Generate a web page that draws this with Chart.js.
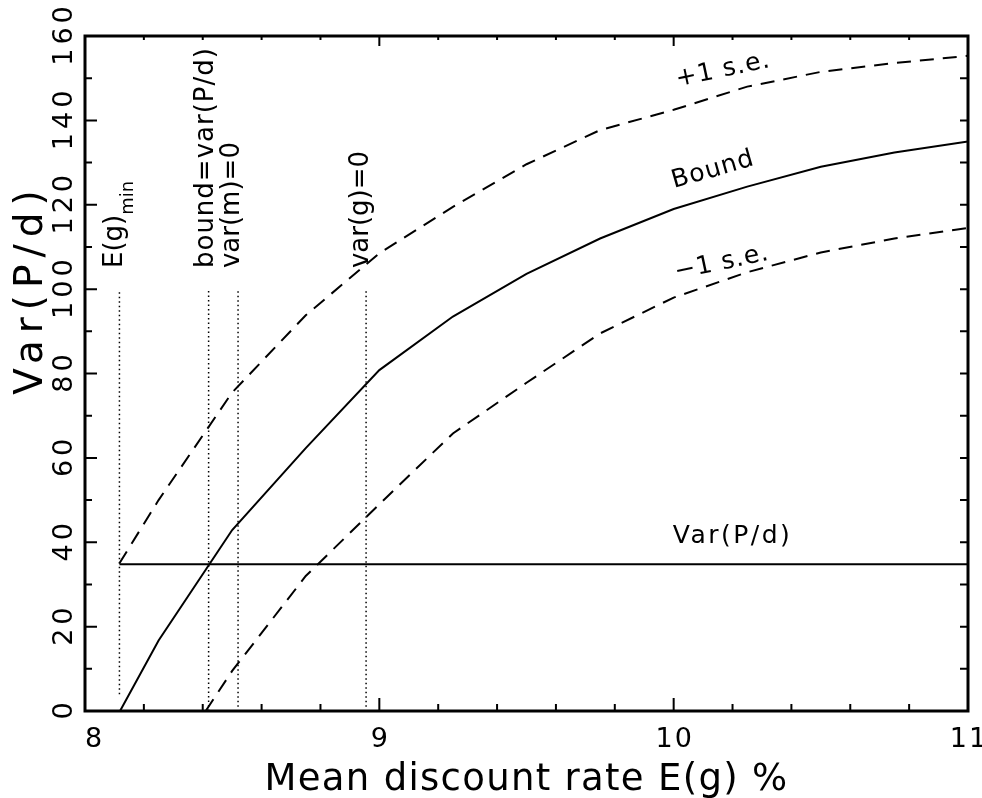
<!DOCTYPE html>
<html>
<head>
<meta charset="utf-8">
<script src="https://cdn.jsdelivr.net/npm/chart.js"></script>
<style>
  body { margin: 0; background: #fff; }
  #chart { display: block; }
</style>
</head>
<body>
<canvas id="chart" width="982" height="798"></canvas>
<script>
// values
const boundX = [8.119, 8.25, 8.5, 8.75, 9.0, 9.25, 9.5, 9.75, 10.0, 10.25, 10.5, 10.75, 11.0];
const boundY = [0, 16.7, 42.9, 62.3, 80.8, 93.5, 103.6, 112, 119, 124.3, 129, 132.4, 135];
const upperX = [8.117, 8.25, 8.5, 8.75, 9.0, 9.25, 9.5, 9.75, 10.0, 10.25, 10.5, 10.75, 11.0];
const upperY = [35, 50, 75.5, 93.8, 108.5, 119.5, 129.6, 137.7, 142.5, 148, 151.5, 153.6, 155.3];
const lowerX = [8.41, 8.5, 8.75, 9.0, 9.25, 9.5, 9.75, 10.0, 10.25, 10.5, 10.75, 11.0];
const lowerY = [0, 9.5, 32, 49, 65.8, 77.8, 89.5, 98, 104, 108.7, 112, 114.5];
const varPdX = [8.117, 11.0];
const varPdY = [34.8, 34.8];

// dotted reference lines and their labels
const markerX = [8.117, 8.42, 8.52, 8.955];
const markerTop = [100, 100, 100, 100];
const markerBottom = [4, 0, 1, 1];
const markerLabels = ['E(g)', 'bound=var(P/d)', 'var(m)=0', 'var(g)=0'];
const markerSubs = ['min', '', '', ''];

const xTickLabels = [8, 9, 10, 11];
const yTickLabels = [0, 20, 40, 60, 80, 100, 120, 140, 160];

const xTitle = 'Mean discount rate E(g) %';
const yTitle = 'Var(P/d)';

const FONT = "'DejaVu Sans'";

function pts(xs, ys) {
  return xs.map((x, i) => ({ x: x, y: ys[i] }));
}

const datasets = [
  { data: pts(boundX, boundY), borderColor: '#000', borderWidth: 2 },
  { data: pts(upperX, upperY), borderColor: '#000', borderWidth: 2, borderDash: [14, 9] },
  { data: pts(lowerX, lowerY), borderColor: '#000', borderWidth: 2, borderDash: [14, 9] },
  { data: pts(varPdX, varPdY), borderColor: '#000', borderWidth: 2 }
];
markerX.forEach((mx, i) => {
  datasets.push({
    data: [{ x: mx, y: markerBottom[i] }, { x: mx, y: markerTop[i] }],
    borderColor: '#000', borderWidth: 1.5, borderDash: [1.5, 3]
  });
});

function isWhole(v) { return Math.abs(v - Math.round(v)) < 1e-6; }

const decor = {
  id: 'decor',
  afterDraw(chart) {
    const ctx = chart.ctx;
    const a = chart.chartArea;
    const xs = chart.scales.x;
    const ys = chart.scales.y;
    ctx.save();
    ctx.strokeStyle = '#000';
    ctx.fillStyle = '#000';

    // frame
    ctx.lineWidth = 3;
    ctx.strokeRect(a.left, a.top, a.right - a.left, a.bottom - a.top);

    // inward ticks on all four sides
    ctx.lineWidth = 2;
    ctx.beginPath();
    xs.ticks.forEach(t => {
      const px = xs.getPixelForValue(t.value);
      const len = isWhole(t.value) ? 13 : 7;
      ctx.moveTo(px, a.bottom); ctx.lineTo(px, a.bottom - len);
      ctx.moveTo(px, a.top); ctx.lineTo(px, a.top + len - 3);
    });
    ys.ticks.forEach(t => {
      const py = ys.getPixelForValue(t.value);
      const len = t.value % 20 === 0 ? 12 : 7;
      ctx.moveTo(a.left, py); ctx.lineTo(a.left + len, py);
      ctx.moveTo(a.right, py); ctx.lineTo(a.right - 8, py);
    });
    ctx.stroke();

    // x tick labels
    ctx.font = '27px ' + FONT;
    ctx.letterSpacing = '2px';
    ctx.textBaseline = 'alphabetic';
    xTickLabels.forEach((v, i) => {
      ctx.textAlign = i === 0 ? 'left' : 'center';
      ctx.fillText(String(v), xs.getPixelForValue(v) + (i === 0 ? 0 : 1), a.bottom + 36);
    });

    // y tick labels, rotated
    ctx.letterSpacing = '4px';
    yTickLabels.forEach(v => {
      ctx.save();
      ctx.translate(72, ys.getPixelForValue(v));
      ctx.rotate(-Math.PI / 2);
      ctx.textAlign = 'center';
      ctx.fillText(String(v), 2, 0);
      ctx.restore();
    });

    // axis titles
    ctx.font = '37px ' + FONT;
    ctx.letterSpacing = '1.3px';
    ctx.textAlign = 'center';
    ctx.fillText(xTitle, (a.left + a.right) / 2, 790);

    ctx.save();
    ctx.font = '39px ' + FONT;
    ctx.letterSpacing = '7px';
    ctx.translate(42, 292);
    ctx.rotate(-Math.PI / 2);
    ctx.fillText(yTitle, 3, 0);
    ctx.restore();

    // labels above dotted lines
    const offs = [3, 4.5, 1, 2];
    ctx.textAlign = 'left';
    markerX.forEach((mx, i) => {
      ctx.save();
      ctx.translate(xs.getPixelForValue(mx) + offs[i], ys.getPixelForValue(105));
      ctx.rotate(-Math.PI / 2);
      ctx.font = '26px ' + FONT;
      ctx.letterSpacing = i === 1 ? '1px' : '0px';
      ctx.fillText(markerLabels[i], 0, 0);
      if (markerSubs[i]) {
        const w = ctx.measureText(markerLabels[i]).width;
        ctx.font = '18px ' + FONT;
        ctx.fillText(markerSubs[i], w, 11);
      }
      ctx.restore();
    });

    // curve labels
    ctx.font = '25px ' + FONT;
    ctx.letterSpacing = '1px';
    ctx.textAlign = 'center';
    ctx.textBaseline = 'middle';
    const curveLabels = [
      { t: '+1 s.e.', x: 10.168, y: 151.9, r: -12 },
      { t: 'Bound', x: 10.134, y: 128.2, r: -16 },
      { t: '\u22121 s.e.', x: 10.164, y: 106.2, r: -12 }
    ];
    curveLabels.forEach(l => {
      ctx.save();
      ctx.translate(xs.getPixelForValue(l.x), ys.getPixelForValue(l.y));
      ctx.rotate(l.r * Math.PI / 180);
      ctx.fillText(l.t, 0, 0);
      ctx.restore();
    });
    ctx.letterSpacing = '2.5px';
    ctx.textBaseline = 'alphabetic';
    ctx.fillText('Var(P/d)', xs.getPixelForValue(10.2), ys.getPixelForValue(39.8));

    ctx.restore();
  }
};

new Chart(document.getElementById('chart'), {
  type: 'line',
  data: { datasets: datasets },
  options: {
    responsive: false,
    animation: false,
    events: [],
    layout: { padding: { top: 36, right: 14, left: 0, bottom: 0 } },
    elements: {
      point: { radius: 0 },
      line: { tension: 0, fill: false }
    },
    plugins: {
      legend: { display: false },
      tooltip: { enabled: false }
    },
    scales: {
      x: {
        type: 'linear',
        min: 8, max: 11,
        ticks: { display: false, stepSize: 0.2 },
        grid: { display: false },
        border: { display: false },
        afterFit: s => { s.height = 87; }
      },
      y: {
        min: 0, max: 160,
        ticks: { display: false, stepSize: 10 },
        grid: { display: false },
        border: { display: false },
        afterFit: s => { s.width = 85; }
      }
    }
  },
  plugins: [decor]
});
</script>
</body>
</html>
